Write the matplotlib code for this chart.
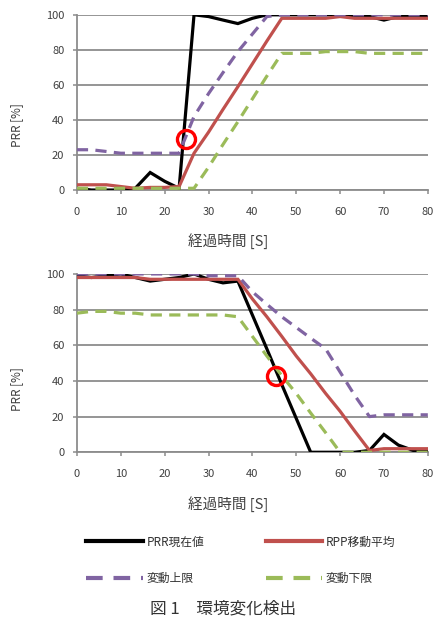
import matplotlib
matplotlib.use("Agg")
import matplotlib.pyplot as plt
from matplotlib.lines import Line2D
import numpy as np

plt.rcParams['font.family'] = ['Noto Sans CJK JP', 'DejaVu Sans']

# time axis (s)
t = [0, 3.3, 6.7, 10, 13.3, 16.7, 20, 23.3, 26.7, 30, 33.3, 36.7, 40,
     43.3, 46.7, 50, 53.3, 56.7, 60, 63.3, 66.7, 70, 73.3, 76.7, 80]

# top panel
top_prr   = [1, 0, 0, 0, 1, 10, 5, 1, 100, 99, 97, 95, 98, 100, 100, 100, 100, 100, 100, 99, 99, 97, 99, 99, 99]
top_avg   = [3, 3, 3, 2, 1, 1.5, 1.5, 2, 21, 33, 46, 59, 72, 85, 98, 98, 98, 98, 99, 98, 98, 98, 98, 98, 98]
top_upper = [23, 23, 22, 21, 21, 21, 21, 21, 42, 55, 67, 79, 89, 99, 100, 100, 100, 100, 100, 100, 100, 100, 100, 100, 100]
top_lower = [1, 1, 1, 1, 1, 1, 1, 1, 1, 13, 26, 39, 52, 65, 78, 78, 78, 79, 79, 79, 78, 78, 78, 78, 78]

# bottom panel
bot_prr   = [99, 98, 99, 100, 98, 96, 97, 98, 100, 97, 95, 96, 77, 58, 38, 19, 0, 0, 0, 0, 1, 10, 4, 1, 1]
bot_avg   = [98, 98, 98, 98, 98, 97, 97, 97, 97, 97, 97, 97, 86, 76, 65, 54, 44, 33, 23, 12, 1, 2, 2, 2, 2]
bot_upper = [100, 100, 100, 100, 100, 100, 100, 100, 100, 99, 99, 99, 90, 83, 76, 70, 64, 58, 45, 32, 20, 21, 21, 21, 21]
bot_lower = [78, 79, 79, 78, 78, 77, 77, 77, 77, 77, 77, 76, 65, 54, 43, 33, 22, 11, 0, 0, 0, 0, 0, 0, 0]

# detection markers
top_mark = (24.8, 29)
bot_mark = (45.5, 43)

labels = ['PRR現在値', 'RPP移動平均', '変動上限', '変動下限']
colors = ['#000000', '#C0504D', '#8064A2', '#9BBB59']
xticks = [0, 10, 20, 30, 40, 50, 60, 70, 80]
yticks = [0, 20, 40, 60, 80, 100]

fig = plt.figure(figsize=(4.37, 6.17), dpi=100)

def panel(rect, series, mark, ylab_y):
    ax = fig.add_axes(rect)
    styles = ['-', '-', (0, (3.5, 2.3)), (0, (3.5, 2.3))]
    for s, c, ls in zip(series, colors, styles):
        ax.plot(t, s, color=c, lw=2.3, ls=ls, solid_joinstyle='miter', dash_capstyle='butt', zorder=3)
    ax.plot([mark[0]], [mark[1]], 'o', ms=13, mfc='none', mec='#FF0000', mew=2.4, zorder=4)
    ax.set_xlim(0, 80)
    ax.set_ylim(0, 100)
    ax.set_xticks(xticks)
    ax.set_yticks(yticks)
    ax.yaxis.grid(True, color='#8C8C8C', lw=1.3)
    ax.set_axisbelow(True)
    for sp in ['top', 'right']:
        ax.spines[sp].set_visible(False)
    for sp in ['left', 'bottom']:
        ax.spines[sp].set_color('#8C8C8C')
        ax.spines[sp].set_linewidth(1.3)
    ax.tick_params(axis='both', colors='#8C8C8C', labelcolor='#404040', labelsize=8, length=3, width=1.1)
    ax.tick_params(axis='x', pad=9)
    ax.tick_params(axis='y', pad=6)
    ax.set_ylabel('PRR [%]', fontsize=8.5, color='#404040')
    ax.yaxis.set_label_coords(-0.154, ylab_y)
    ax.set_xlabel('経過時間 [S]', fontsize=10.5, color='#404040')
    ax.xaxis.set_label_coords(0.43, -0.246)
    return ax

panel([0.176, 0.692, 0.803, 0.284], [top_prr, top_avg, top_upper, top_lower], top_mark, 0.37)
panel([0.176, 0.267, 0.803, 0.289], [bot_prr, bot_avg, bot_upper, bot_lower], bot_mark, 0.355)

handles = [
    Line2D([], [], color=colors[0], lw=3),
    Line2D([], [], color=colors[1], lw=3),
    Line2D([], [], color=colors[2], lw=3, ls=(0, (4, 2.6)), dash_capstyle='butt'),
    Line2D([], [], color=colors[3], lw=3, ls=(0, (4, 2.6)), dash_capstyle='butt'),
]
order = [0, 2, 1, 3]
fig.legend([handles[i] for i in order], [labels[i] for i in order],
           loc='center', bbox_to_anchor=(0.551, 0.092), ncol=2,
           frameon=False, fontsize=8.5, handlelength=4.8, handletextpad=0.3,
           columnspacing=5.2, labelspacing=2.0, labelcolor='#333333')

fig.text(0.51, 0.0, '図 1　環境変化検出', ha='center', va='bottom', fontsize=12, color='#333333')

fig.savefig('out.png', dpi=100)
